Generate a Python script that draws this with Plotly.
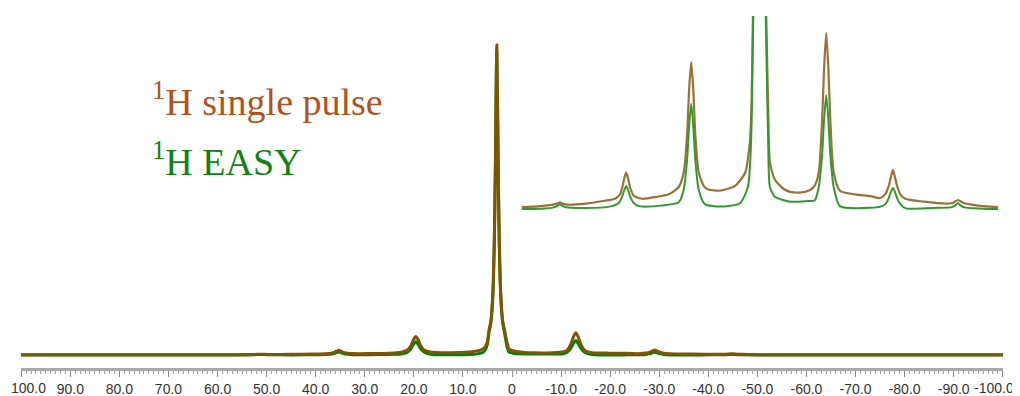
import plotly.graph_objects as go

# ---- data (ppm, intensity) ----
ppm_single = [100, 80, 65, 60.5, 56, 53, 52, 51.3, 50.6, 49.5, 45, 40.5, 38, 36.8, 36.3, 35.8, 35.3, 34.8, 34.3,
              33.5, 32.3, 31.2, 28, 25, 22.6, 21.4, 20.6, 20.1, 19.6, 19.1, 18.6, 17.8, 16.6, 15.5, 12.6, 9.0,
              6.6, 5.4, 5.0, 4.7, 4.3, 3.9, 3.6, 3.4, 3.1, 2.8, 2.6, 2.3, 1.9, 1.5, 1.0, 0.6, -0.6, -2.5, -4.3,
              -7, -9.1, -10.2, -11.2, -12.0, -12.5, -13.0, -13.5, -14.0, -14.8, -16.3, -20, -23.6, -26, -27.3,
              -28.1, -28.6, -29.1, -29.6, -30.1, -30.9, -32.1, -36.6, -42, -43.6, -44.8, -46, -48, -54.5, -65,
              -80, -100]
int_single = [0.05, 0.05, 0.06, 0.08, 0.12, 0.18, 0.22, 0.27, 0.22, 0.18, 0.22, 0.34, 0.42, 0.6, 0.85, 1.22, 1.5,
              1.22, 0.85, 0.55, 0.45, 0.42, 0.5, 0.6, 0.9, 1.5, 3.0, 4.9, 6.0, 4.9, 3.0, 1.5, 0.95, 0.8, 0.75,
              0.95, 1.47, 2.8, 4.5, 7.9, 11, 20, 38, 60, 100, 60, 38, 20, 11, 7.9, 4.0, 1.9, 1.2, 0.85, 0.7,
              0.68, 0.78, 0.95, 1.5, 3.6, 5.8, 7.2, 5.8, 3.6, 1.5, 0.75, 0.6, 0.53, 0.45, 0.62,
              0.95, 1.3, 1.6, 1.3, 0.95, 0.6, 0.42, 0.3, 0.22, 0.26, 0.37, 0.26, 0.18, 0.08, 0.06,
              0.05, 0.05]

ppm_easy = [100, 65, 60.5, 55, 52.8, 51.9, 51.3, 50.7, 49.8, 45, 39.3, 37.1, 36.3, 35.8, 35.3, 34.8, 34.3, 33.5,
            32.3, 31.2, 27, 22.6, 21.4, 20.6, 20.1, 19.6, 19.1, 18.6, 17.8, 16.3, 12.6, 7.8, 5.9, 5.4, 5.0, 4.7,
            4.3, 3.9, 3.6, 3.4, 3.1, 2.8, 2.6, 2.3, 1.9, 1.5, 1.0, 0.6, -0.6, -4.3, -9.1, -10.2, -11.2, -12.0,
            -12.5, -13.0, -13.5, -14.0, -14.8, -16.3, -23.6, -26.5, -27.3, -28.1, -28.6, -29.1, -29.6, -30.1,
            -30.9, -32.2, -40, -43.3, -44.2, -44.8, -45.4, -46.3, -50, -54.5, -100]
int_easy = [0.0, 0.0, 0.0, 0.02, 0.07, 0.13, 0.2, 0.13, 0.07, 0.04, 0.1, 0.25, 0.5, 0.75, 0.94, 0.75, 0.5, 0.25,
            0.12, 0.1, 0.14, 0.28, 0.8, 2.0, 3.4, 4.3, 3.4, 2.0, 0.8, 0.2, 0.1, 0.24, 0.9, 1.8, 3.6, 7.0,
            10.5, 19, 36, 58, 98, 58, 36, 19, 10.5, 7.0, 2.6, 0.9, 0.5, 0.3, 0.33, 0.35, 0.9, 2.2,
            3.7, 4.65, 3.7, 2.2, 0.9, 0.12, 0.05, 0.12, 0.2, 0.45, 0.7, 0.86, 0.7, 0.45,
            0.2, 0.03, 0.05, 0.08, 0.15, 0.25, 0.15, 0.07, 0.02, 0.0, 0.0]

tick_vals = [100, 90, 80, 70, 60, 50, 40, 30, 20, 10, 0, -10, -20, -30, -40, -50, -60, -70, -80, -90, -100]
tick_text = ["100.0", "90.0", "80.0", "70.0", "60.0", "50.0", "40.0", "30.0", "20.0", "10.0", "0",
             "-10.0", "-20.0", "-30.0", "-40.0", "-50.0", "-60.0", "-70.0", "-80.0", "-90.0", "-100.0"]
# the two end labels sit slightly inward from their ticks, as in the reference
end_label_pos = [98.6, -98.3]

label_single = "<sup>1</sup>H single pulse"
label_easy = "<sup>1</sup>H EASY"

BROWN = "#805400"
GREEN = "#008000"
BROWN_IN = "#9a7235"
GREEN_IN = "#2f9a2f"

inner_text = [""] + tick_text[1:-1] + [""]
end_text = [tick_text[0], tick_text[-1]]

fig = go.Figure()
# main spectrum
fig.add_trace(go.Scatter(x=ppm_easy, y=int_easy, mode="lines",
                         line=dict(color=GREEN, width=3, shape="spline", smoothing=0.6),
                         xaxis="x", yaxis="y", showlegend=False, hoverinfo="skip"))
fig.add_trace(go.Scatter(x=ppm_single, y=int_single, mode="lines",
                         line=dict(color=BROWN, width=3, shape="spline", smoothing=0.6),
                         xaxis="x", yaxis="y", showlegend=False, hoverinfo="skip"))
# inset (vertical expansion)
fig.add_trace(go.Scatter(x=ppm_single, y=int_single, mode="lines",
                         line=dict(color=BROWN_IN, width=2.2, shape="spline", smoothing=0.6),
                         xaxis="x2", yaxis="y2", showlegend=False, hoverinfo="skip"))
fig.add_trace(go.Scatter(x=ppm_easy, y=int_easy, mode="lines",
                         line=dict(color=GREEN_IN, width=2, shape="spline", smoothing=0.6),
                         xaxis="x2", yaxis="y2", showlegend=False, hoverinfo="skip"))

tickfont = dict(family="Liberation Sans, Arial, sans-serif", size=14, color="#333333")

annotations = [
    dict(text=label_single, xref="paper", yref="paper", x=0.1314, y=0.752,
         xanchor="left", yanchor="middle", showarrow=False,
         font=dict(family="Liberation Serif, Times New Roman, serif", size=38, color="#b0521c")),
    dict(text=label_easy, xref="paper", yref="paper", x=0.1314, y=0.583,
         xanchor="left", yanchor="middle", showarrow=False,
         font=dict(family="Liberation Serif, Times New Roman, serif", size=38, color="#118211")),
]
for pos, txt in zip(end_label_pos, end_text):
    annotations.append(dict(text=txt, xref="x", yref="paper", x=pos, y=-0.0559,
                            xanchor="center", yanchor="middle", showarrow=False, font=tickfont))

# the page body adds an 8px margin, so the figure is 8px smaller and margins shifted
fig.update_layout(
    width=1012, height=388,
    margin=dict(l=13, r=17, t=2, b=28, autoexpand=False),
    paper_bgcolor="white", plot_bgcolor="white",
    xaxis=dict(range=[100.05, -100.05], domain=[0, 1], showgrid=False, zeroline=False, automargin=False,
               showline=True, linecolor="#a8a8a8", linewidth=3,
               tickmode="array", tickvals=tick_vals, ticktext=inner_text,
               ticks="outside", ticklen=6, tickwidth=1, tickcolor="#8a8a8a",
               minor=dict(tickmode="linear", tick0=0, dtick=1, ticks="outside",
                          ticklen=3, tickwidth=1, tickcolor="#a0a0a0"),
               tickfont=tickfont),
    yaxis=dict(range=[-4.19, 111.3], domain=[0, 1], visible=False, fixedrange=True, automargin=False),
    xaxis2=dict(range=[60.5, -54.5], domain=[0.510, 0.995], anchor="y2", visible=False, automargin=False),
    yaxis2=dict(range=[-0.08, 7.88], domain=[0.4385, 0.983], anchor="x2", visible=False, automargin=False),
    annotations=annotations,
)

fig.write_html("out.html")
